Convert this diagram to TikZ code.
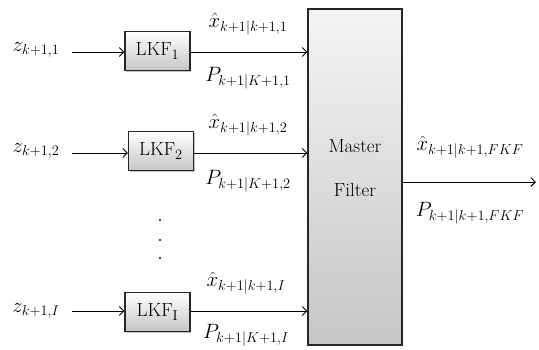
\documentclass[tikz,border=0pt]{standalone}
\usetikzlibrary{arrows.meta,shadows}
\begin{document}
\begin{tikzpicture}[x=1pt,y=-1pt,
  lkfbox/.style={draw=black!85,line width=1.1pt,minimum width=65pt,minimum height=39pt,
    top color=white,bottom color=gray!45,inner sep=0pt,
    drop shadow={shadow xshift=1pt,shadow yshift=-1pt,fill=black!40,opacity=0.6},
    font=\fontsize{19}{22}\selectfont},
  masterbox/.style={draw=black!85,line width=1.1pt,minimum width=94pt,minimum height=336pt,
    top color=gray!8,bottom color=gray!45,inner sep=0pt,
    drop shadow={shadow xshift=1pt,shadow yshift=-1pt,fill=black!40,opacity=0.6}},
  lbl/.style={font=\fontsize{21}{24}\selectfont,inner sep=0pt},
  conn/.style={line width=0.9pt,-{Straight Barb[length=4.5pt,width=9pt,line width=0.9pt]}},
  dotc/.style={circle,fill=black,inner sep=0pt,minimum size=2.4pt}
]
\useasboundingbox (0,0) rectangle (539,349);
\node[masterbox] (master) at (355,177) {};
\node[font=\fontsize{19}{44}\selectfont,align=center] (mtext) at (355,168) {Master\\Filter};

\node[lkfbox] (lkf1) at (157.5,51) {LKF$_1$};
\node[lkfbox] (lkf2) at (161,151) {LKF$_2$};
\node[lkfbox] (lkfI) at (157.5,312) {LKF$_{\mathrm{I}}$};

\coordinate (in1) at (72,52);
\coordinate (in2) at (72,153);
\coordinate (inI) at (72,311);
\coordinate (out) at (536,182);

\node[lbl] (z1) at (36,50) {$z_{k+1,1}$};
\node[lbl] (z2) at (36,151) {$z_{k+1,2}$};
\node[lbl] (zI) at (36,311) {$z_{k+1,I}$};

\draw[conn] (in1) -- (in1 -| lkf1.west);
\draw[conn] (in2) -- (in2 -| lkf2.west);
\draw[conn] (inI) -- (inI -| lkfI.west);

\draw[conn] (lkf1.east |- in1) -- (in1 -| master.west);
\draw[conn] (lkf2.east |- in2) -- (in2 -| master.west);
\draw[conn] (lkfI.east |- inI) -- (inI -| master.west);
\draw[conn] (out -| master.east) -- (out);

\node[lbl] (x1) at (248,24) {$\hat{x}_{k+1|k+1,1}$};
\node[lbl] (p1) at (248,78) {$P_{k+1|K+1,1}$};
\node[lbl] (x2) at (248,125) {$\hat{x}_{k+1|k+1,2}$};
\node[lbl] (p2) at (248,181) {$P_{k+1|K+1,2}$};
\node[lbl] (xI) at (246,283) {$\hat{x}_{k+1|k+1,I}$};
\node[lbl] (pI) at (246,335) {$P_{k+1|K+1,I}$};
\node[lbl] (xF) at (470,147) {$\hat{x}_{k+1|k+1,FKF}$};
\node[lbl] (pF) at (470,213) {$P_{k+1|k+1,FKF}$};

\node[dotc] (d1) at (160,220) {};
\node[dotc] (d2) at (160,240) {};
\node[dotc] (d3) at (160,258) {};
\end{tikzpicture}
\end{document}
